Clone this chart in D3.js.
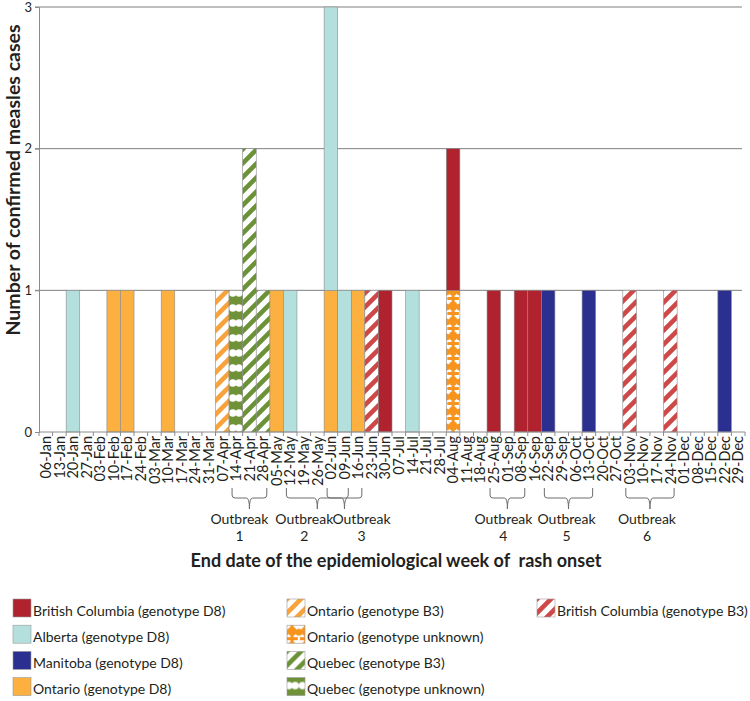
<!DOCTYPE html>
<meta charset="utf-8">
<html>
<head>
<script src="https://cdn.jsdelivr.net/npm/d3@7"></script>
<style>
    body { margin: 0; background: #fff; }
    text { font-family: Lato, "Open Sans", sans-serif; fill: #231f20; }
</style>
</head>
<body>
<div id="chart"></div>
<script>
// week labels (end date of epi week)
var weeks = ["06-Jan","13-Jan","20-Jan","27-Jan","03-Feb","10-Feb","17-Feb","24-Feb","03-Mar","10-Mar","17-Mar","24-Mar","31-Mar",
             "07-Apr","14-Apr","21-Apr","28-Apr","05-May","12-May","19-May","26-May","02-Jun","09-Jun","16-Jun","23-Jun","30-Jun",
             "07-Jul","14-Jul","21-Jul","28-Jul","04-Aug","11-Aug","18-Aug","25-Aug","01-Sep","08-Sep","16-Sep","22-Sep","29-Sep",
             "06-Oct","13-Oct","20-Oct","27-Oct","03-Nov","10-Nov","17-Nov","24-Nov","01-Dec","08-Dec","15-Dec","22-Dec","29-Dec"];

// cases per week, one array per series (13 weeks per line)
var ontarioD8 = [0,0,0,0,0,1,1,0,0,1,0,0,0,
                 0,0,0,0,1,0,0,0,1,0,1,0,0,
                 0,0,0,0,0,0,0,0,0,0,0,0,0,
                 0,0,0,0,0,0,0,0,0,0,0,0,0];
var ontarioB3 = [0,0,0,0,0,0,0,0,0,0,0,0,0,
                 1,0,0,0,0,0,0,0,0,0,0,0,0,
                 0,0,0,0,0,0,0,0,0,0,0,0,0,
                 0,0,0,0,0,0,0,0,0,0,0,0,0];
var ontarioUnk = [0,0,0,0,0,0,0,0,0,0,0,0,0,
                  0,0,0,0,0,0,0,0,0,0,0,0,0,
                  0,0,0,0,1,0,0,0,0,0,0,0,0,
                  0,0,0,0,0,0,0,0,0,0,0,0,0];
var quebecB3 = [0,0,0,0,0,0,0,0,0,0,0,0,0,
                0,0,2,1,0,0,0,0,0,0,0,0,0,
                0,0,0,0,0,0,0,0,0,0,0,0,0,
                0,0,0,0,0,0,0,0,0,0,0,0,0];
var quebecUnk = [0,0,0,0,0,0,0,0,0,0,0,0,0,
                 0,1,0,0,0,0,0,0,0,0,0,0,0,
                 0,0,0,0,0,0,0,0,0,0,0,0,0,
                 0,0,0,0,0,0,0,0,0,0,0,0,0];
var bcB3 = [0,0,0,0,0,0,0,0,0,0,0,0,0,
            0,0,0,0,0,0,0,0,0,0,0,1,0,
            0,0,0,0,0,0,0,0,0,0,0,0,0,
            0,0,0,0,1,0,0,1,0,0,0,0,0];
var albertaD8 = [0,0,1,0,0,0,0,0,0,0,0,0,0,
                 0,0,0,0,0,1,0,0,2,1,0,0,0,
                 0,1,0,0,0,0,0,0,0,0,0,0,0,
                 0,0,0,0,0,0,0,0,0,0,0,0,0];
var bcD8 = [0,0,0,0,0,0,0,0,0,0,0,0,0,
            0,0,0,0,0,0,0,0,0,0,0,0,1,
            0,0,0,0,1,0,0,1,0,1,1,0,0,
            0,0,0,0,0,0,0,0,0,0,0,0,0];
var manitobaD8 = [0,0,0,0,0,0,0,0,0,0,0,0,0,
                  0,0,0,0,0,0,0,0,0,0,0,0,0,
                  0,0,0,0,0,0,0,0,0,0,0,1,0,
                  0,1,0,0,0,0,0,0,0,0,0,1,0];

var yTicks = [0, 1, 2, 3];

// outbreak brackets: first/last week, label shift
var outbreaks = [
    {name: "1", from: "14-Apr", to: "28-Apr", dx: -10},
    {name: "2", from: "12-May", to: "09-Jun", dx: -13},
    {name: "3", from: "02-Jun", to: "16-Jun", dx: 17},
    {name: "4", from: "25-Aug", to: "08-Sep", dx: -4},
    {name: "5", from: "22-Sep", to: "13-Oct", dx: -2},
    {name: "6", from: "03-Nov", to: "24-Nov", dx: -3}
];

// series (stack order bottom -> top) with label, colour and fill kind
var series = [
    {key: "ontD8", values: ontarioD8, label: "Ontario (genotype D8)", color: "#fbb040", kind: "solid"},
    {key: "ontB3", values: ontarioB3, label: "Ontario (genotype B3)", color: "#f8a23c", kind: "stripe"},
    {key: "ontUnk", values: ontarioUnk, label: "Ontario (genotype unknown)", color: "#f7941e", kind: "cup"},
    {key: "qcB3", values: quebecB3, label: "Quebec (genotype B3)", color: "#6b9237", kind: "stripe"},
    {key: "qcUnk", values: quebecUnk, label: "Quebec (genotype unknown)", color: "#6f9138", kind: "holes"},
    {key: "bcB3", values: bcB3, label: "British Columbia (genotype B3)", color: "#cf4848", kind: "stripe"},
    {key: "abD8", values: albertaD8, label: "Alberta (genotype D8)", color: "#b3e0dc", kind: "solid"},
    {key: "bcD8", values: bcD8, label: "British Columbia (genotype D8)", color: "#b0222e", kind: "solid"},
    {key: "mbD8", values: manitobaD8, label: "Manitoba (genotype D8)", color: "#2b3090", kind: "solid"}
];

// legend layout order (columns)
var legendCols = [
    ["bcD8", "abD8", "mbD8", "ontD8"],
    ["ontB3", "ontUnk", "qcB3", "qcUnk"],
    ["bcB3"]
];

var W = 750, H = 701;
var svg = d3.select("#chart").append("svg")
    .attr("width", W)
    .attr("height", H);

var x = d3.scaleBand().domain(weeks).range([39, 745]).padding(0);
var y = d3.scaleLinear().domain([0, 3]).range([432, 7]);
var bw = x.bandwidth();

var byKey = {};
series.forEach(function(s){ byKey[s.key] = s; });

// patterns
var defs = svg.append("defs");
series.forEach(function(s){
    if (s.kind == "stripe") {
        var p = defs.append("pattern")
            .attr("id", "pat-" + s.key)
            .attr("patternUnits", "userSpaceOnUse")
            .attr("width", 14).attr("height", 14);
        p.append("rect").attr("width", 14).attr("height", 14).attr("fill", "#fff");
        p.append("path")
            .attr("d", "M-1,15 L15,-1 M-4,4 L4,-4 M10,18 L18,10")
            .attr("stroke", s.color)
            .attr("stroke-width", 4.6);
    } else if (s.kind == "cup") {
        var p = defs.append("pattern")
            .attr("id", "pat-" + s.key)
            .attr("patternUnits", "userSpaceOnUse")
            .attr("x", x.range()[0])
            .attr("width", bw).attr("height", 15);
        p.append("rect").attr("width", bw).attr("height", 15).attr("fill", "#fff");
        p.append("rect").attr("x", bw/2 - 1.5).attr("width", 3).attr("height", 15).attr("fill", s.color);
        p.append("rect").attr("x", 1).attr("y", 12).attr("width", bw - 2).attr("height", 3).attr("fill", s.color);
        p.append("circle").attr("cx", bw/2).attr("cy", 6).attr("r", 4.5).attr("fill", s.color);
        p.append("circle").attr("cx", 0).attr("cy", 7).attr("r", 3.5).attr("fill", s.color);
        p.append("circle").attr("cx", bw).attr("cy", 7).attr("r", 3.5).attr("fill", s.color);
    } else if (s.kind == "holes") {
        var p = defs.append("pattern")
            .attr("id", "pat-" + s.key)
            .attr("patternUnits", "userSpaceOnUse")
            .attr("x", x.range()[0])
            .attr("width", bw).attr("height", 15);
        p.append("rect").attr("width", bw).attr("height", 15).attr("fill", s.color);
        p.append("circle").attr("cx", bw*0.27).attr("cy", 8).attr("r", 3.7).attr("fill", "#fff");
        p.append("circle").attr("cx", bw*0.73).attr("cy", 8).attr("r", 3.7).attr("fill", "#fff");
    }
});

function fillOf(s){
    return s.kind == "solid" ? s.color : "url(#pat-" + s.key + ")";
}

// gridlines
svg.append("g").selectAll("line")
    .data(yTicks.slice(1)).enter()
    .append("line")
    .attr("x1", 35).attr("x2", 742)
    .attr("y1", function(d){ return y(d); })
    .attr("y2", function(d){ return y(d); })
    .attr("stroke", "#7f7f7f")
    .attr("stroke-width", 1);

// stacked bars
var rows = weeks.map(function(w, i){
    var r = {week: w};
    series.forEach(function(s){ r[s.key] = s.values[i]; });
    return r;
});
var stacked = d3.stack().keys(series.map(function(s){ return s.key; }))(rows);

svg.append("g").selectAll("g")
    .data(stacked).enter()
    .append("g")
    .attr("fill", function(d){ return fillOf(byKey[d.key]); })
    .selectAll("rect")
    .data(function(d){ return d.filter(function(v){ return v[1] > v[0]; }); })
    .enter().append("rect")
    .attr("x", function(d){ return x(d.data.week); })
    .attr("width", bw)
    .attr("y", function(d){ return y(d[1]); })
    .attr("height", function(d){ return y(d[0]) - y(d[1]); })
    .attr("stroke", "#8c8c8c")
    .attr("stroke-width", 0.6);

// y axis
var yAxis = svg.append("g")
    .attr("transform", "translate(39,0)")
    .call(d3.axisLeft(y).tickValues(yTicks).tickFormat(d3.format("d")).tickSize(4).tickPadding(3));
yAxis.select(".domain").attr("stroke", "#8c8c8c");
yAxis.selectAll(".tick line").attr("stroke", "#8c8c8c");
yAxis.selectAll("text").style("font-size", "13px").style("font-family", "Lato").attr("fill", "#333");

// x axis line + ticks at week boundaries
svg.append("line")
    .attr("x1", 39).attr("x2", 745)
    .attr("y1", y(0)).attr("y2", y(0))
    .attr("stroke", "#8c8c8c");
svg.append("g").selectAll("line")
    .data(weeks.concat(["end"])).enter()
    .append("line")
    .attr("x1", function(d, i){ return x.range()[0] + i * bw; })
    .attr("x2", function(d, i){ return x.range()[0] + i * bw; })
    .attr("y1", y(0)).attr("y2", y(0) + 4)
    .attr("stroke", "#8c8c8c");

svg.append("g").selectAll("text")
    .data(weeks).enter()
    .append("text")
    .attr("transform", function(d){ return "translate(" + (x(d) + bw/2) + "," + (y(0) + 4) + ") rotate(-90)"; })
    .attr("text-anchor", "end")
    .attr("dy", "0.36em")
    .style("font-size", "14.5px")
    .text(function(d){ return d; });

// outbreak brackets
var bTop = 488, bMid = 498, bBot = 509;
var ob = svg.append("g").selectAll("g")
    .data(outbreaks).enter()
    .append("g");
ob.append("path")
    .attr("d", function(d){
        var x1 = x(d.from) + 3, x2 = x(d.to) + bw - 3, xm = (x1 + x2) / 2;
        return "M" + x1 + "," + bTop + " L" + x1 + "," + (bMid - 3) +
               " Q" + x1 + "," + bMid + " " + (x1 + 3) + "," + bMid +
               " L" + (xm - 3) + "," + bMid +
               " Q" + xm + "," + bMid + " " + xm + "," + bBot +
               " Q" + xm + "," + bMid + " " + (xm + 3) + "," + bMid +
               " L" + (x2 - 3) + "," + bMid +
               " Q" + x2 + "," + bMid + " " + x2 + "," + (bMid - 3) +
               " L" + x2 + "," + bTop;
    })
    .attr("fill", "none")
    .attr("stroke", "#6d6d6d")
    .attr("stroke-width", 1);
ob.append("text")
    .attr("x", function(d){ return (x(d.from) + x(d.to) + bw) / 2 + d.dx; })
    .attr("y", 524)
    .attr("text-anchor", "middle")
    .style("font-size", "14px")
    .text("Outbreak");
ob.append("text")
    .attr("x", function(d){ return (x(d.from) + x(d.to) + bw) / 2 + d.dx; })
    .attr("y", 541)
    .attr("text-anchor", "middle")
    .style("font-size", "14px")
    .text(function(d){ return d.name; });

// axis titles
svg.append("text")
    .attr("x", 396).attr("y", 567)
    .attr("text-anchor", "middle")
    .style("font-size", "18px")
    .style("font-weight", "bold")
    .style("white-space", "pre")
    .text("End date of the epidemiological week of  rash onset");

svg.append("text")
    .attr("transform", "translate(20,180) rotate(-90)")
    .attr("text-anchor", "middle")
    .style("font-size", "19.5px")
    .style("font-weight", "bold")
    .text("Number of confirmed measles cases");

// legend
var colX = [13, 287, 537];
legendCols.forEach(function(col, c){
    var lg = svg.append("g").selectAll("g")
        .data(col).enter()
        .append("g")
        .attr("transform", function(d, i){ return "translate(" + colX[c] + "," + (599 + i * 26.2) + ")"; });
    lg.append("rect")
        .attr("width", 18).attr("height", 18)
        .attr("fill", function(d){ return fillOf(byKey[d]); })
        .attr("stroke", "#9a9a9a")
        .attr("stroke-width", 0.6);
    lg.append("text")
        .attr("x", 20).attr("y", 12)
        .attr("dy", "0.35em")
        .style("font-size", "14px")
        .text(function(d){ return byKey[d].label; });
});
</script>
</body>
</html>
